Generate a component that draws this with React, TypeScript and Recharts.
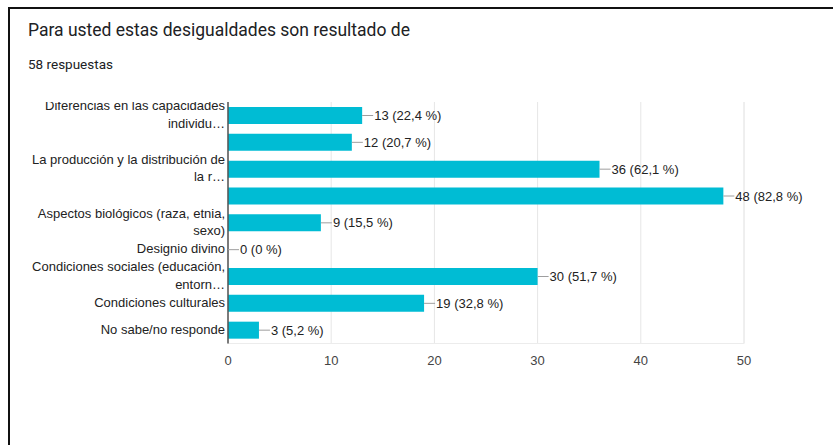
import React from "react";
import { BarChart, Bar, XAxis, YAxis, CartesianGrid, LabelList } from "recharts";

const categories = [
  "Diferencias en las capacidades individuales",
  "Opción 2",
  "La producción y la distribución de la riqueza",
  "Opción 4",
  "Aspectos biológicos (raza, etnia, sexo)",
  "Designio divino",
  "Condiciones sociales (educación, entorno)",
  "Condiciones culturales",
  "No sabe/no responde",
];
const counts = [13, 12, 36, 48, 9, 0, 30, 19, 3];
const percents = ["22,4", "20,7", "62,1", "82,8", "15,5", "0", "51,7", "32,8", "5,2"];
const tickLines: string[][] = [
  ["Diferencias en las capacidades", "individu…"],
  [],
  ["La producción y la distribución de", "la r…"],
  [],
  ["Aspectos biológicos (raza, etnia,", "sexo)"],
  ["Designio divino"],
  ["Condiciones sociales (educación,", "entorn…"],
  ["Condiciones culturales"],
  ["No sabe/no responde"],
];
const xTicks = [0, 10, 20, 30, 40, 50];
const minorTicks = [5, 15, 25, 35, 45];

const data = categories.map((c, i) => ({
  cat: c,
  value: counts[i],
  lbl: `${counts[i]} (${percents[i]} %)`,
}));

const PLOT_TOP = 102;
const FONT = "'Liberation Sans', Arial, sans-serif";

const YTick = (props: any) => {
  const { x, y, index } = props;
  const lines = tickLines[index] || [];
  const lh = 17.5;
  const start = y - ((lines.length - 1) * lh) / 2 - 1;
  const id = `tclip${index}`;
  return (
    <g>
      <defs>
        <clipPath id={id}>
          <rect x={0} y={PLOT_TOP} width={x + 10} height={400} />
        </clipPath>
      </defs>
      <g clipPath={`url(#${id})`}>
        {lines.map((l, i) => (
          <text
            key={i}
            x={x}
            y={start + i * lh}
            textAnchor="end"
            dominantBaseline="central"
            fontSize={13}
            fontFamily={FONT}
            fill="#222"
          >
            {l}
          </text>
        ))}
      </g>
    </g>
  );
};

const ValueLabel = (props: any) => {
  const { x, y, width, height, value } = props;
  const ex = Number(x) + Number(width);
  const cy = Number(y) + Number(height) / 2;
  return (
    <g>
      <line x1={ex} y1={cy} x2={ex + 11} y2={cy} stroke="#9e9e9e" strokeWidth={1} />
      <text
        x={ex + 12}
        y={cy}
        dominantBaseline="central"
        fontSize={13}
        fontFamily={FONT}
        fill="#222"
      >
        {value}
      </text>
    </g>
  );
};

export default function App() {
  return (
    <div
      style={{
        position: "absolute",
        left: 0,
        top: 0,
        width: 833,
        height: 445,
        background: "#fff",
        overflow: "hidden",
      }}
    >
      <div style={{ position: "absolute", left: 8, top: 7, width: 825, height: 2, background: "#111" }} />
      <div style={{ position: "absolute", left: 8, top: 7, width: 2, height: 438, background: "#111" }} />
      <div
        style={{
          position: "absolute",
          left: 28,
          top: 20,
          fontFamily: "Roboto, sans-serif",
          fontSize: 17.5,
          lineHeight: "20px",
          color: "#202124",
          whiteSpace: "nowrap",
        }}
      >
        Para usted estas desigualdades son resultado de
      </div>
      <div
        style={{
          position: "absolute",
          left: 28,
          top: 56,
          fontFamily: "Roboto, sans-serif",
          fontSize: 13.5,
          lineHeight: "16px",
          color: "#202124",
          whiteSpace: "nowrap",
        }}
      >
        58 respuestas
      </div>
      <div style={{ position: "absolute", left: 0, top: 0 }}>
        <BarChart
          width={833}
          height={445}
          data={data}
          layout="vertical"
          margin={{ top: PLOT_TOP, right: 89, bottom: 71.5, left: 0 }}
        >
          <CartesianGrid horizontal={false} xAxisId="top" stroke="#f0f0f0" />
          <CartesianGrid horizontal={false} stroke="#e6e6e6" />
          <XAxis
            type="number"
            domain={[0, 50]}
            ticks={xTicks}
            interval={0}
            tickLine={false}
            tickSize={0}
            tickMargin={12}
            axisLine={{ stroke: "#ececec" }}
            tick={{ fontSize: 13, fontFamily: FONT, fill: "#444" }}
            height={30}
          />
          <XAxis
            xAxisId="top"
            orientation="top"
            type="number"
            domain={[0, 50]}
            ticks={minorTicks}
            interval={0}
            tick={false}
            tickLine={false}
            axisLine={{ stroke: "#ececec" }}
            height={0}
          />
          <YAxis
            type="category"
            dataKey="cat"
            width={228}
            tickLine={false}
            tickSize={0}
            tickMargin={3}
            interval={0}
            axisLine={{ stroke: "#555", strokeWidth: 1.5 }}
            tick={<YTick />}
          />
          <Bar dataKey="value" fill="#00bcd4" barSize={17} minPointSize={0.01} isAnimationActive={false}>
            <LabelList dataKey="lbl" content={<ValueLabel />} />
          </Bar>
        </BarChart>
      </div>
    </div>
  );
}
